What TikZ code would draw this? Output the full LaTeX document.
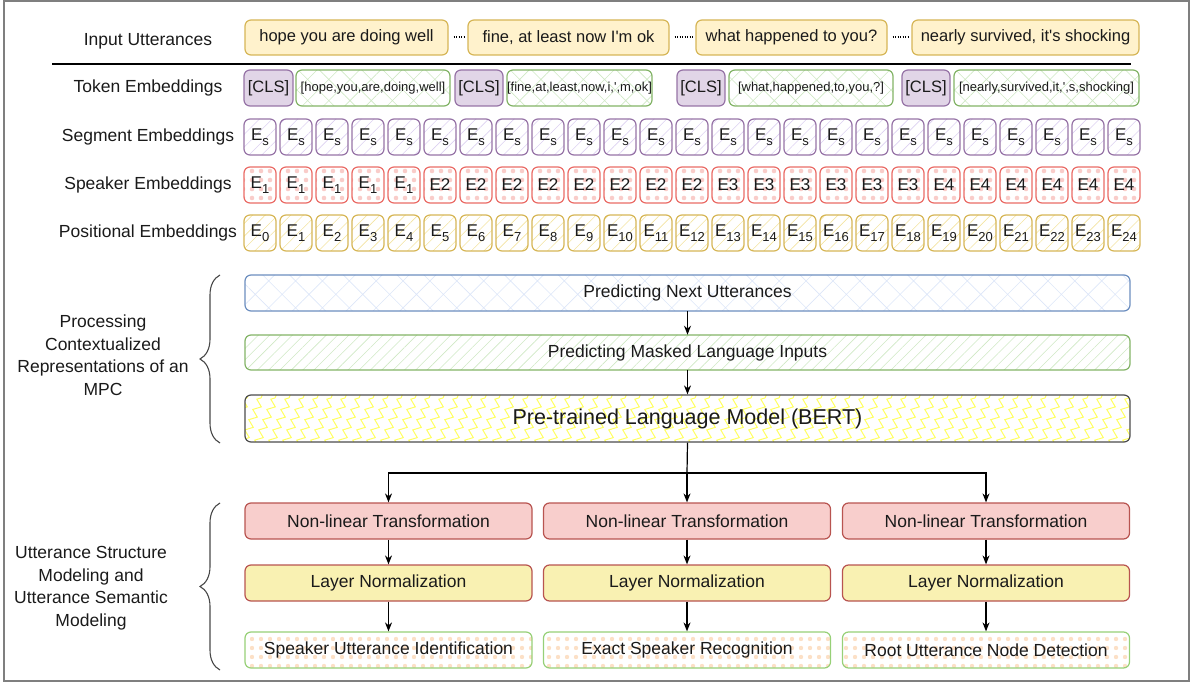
\documentclass[tikz,border=0pt]{standalone}
\usepackage{fontspec}
\setmainfont{Liberation Sans}
\usetikzlibrary{patterns.meta,decorations.pathreplacing,decorations.pathmorphing,arrows.meta}
\definecolor{txt}{HTML}{1A1A1A}
\definecolor{uttf}{HTML}{FFF2CC}
\definecolor{uttd}{HTML}{D6B656}
\definecolor{clsf}{HTML}{E1D5E7}
\definecolor{clsd}{HTML}{9673A6}
\definecolor{grnd}{HTML}{82B366}
\definecolor{grnl}{HTML}{97D077}
\definecolor{grnp}{HTML}{CFE8C4}
\definecolor{purp}{HTML}{DCD0F0}
\definecolor{redd}{HTML}{EA6B66}
\definecolor{redp}{HTML}{F9CCC9}
\definecolor{yelp}{HTML}{F3E3A0}
\definecolor{blud}{HTML}{6C8EBF}
\definecolor{blup}{HTML}{DDE6F8}
\definecolor{zzc}{HTML}{FFFF60}
\definecolor{nltf}{HTML}{F8CECC}
\definecolor{nltd}{HTML}{B85450}
\definecolor{lnf}{HTML}{F9F1B2}
\definecolor{orgp}{HTML}{FCE0C6}
\definecolor{frame}{HTML}{7F7F7F}
\newcommand\Esub[1]{E\raisebox{-4.5pt}{\fontsize{13}{12}\selectfont #1}}
\newcommand\q{\textquotesingle}
\begin{document}
\begin{tikzpicture}[x=1pt,y=-1pt,
  base/.style={rounded corners=6pt, inner sep=0pt, line width=1.2pt, align=center, text=txt},
  lbl/.style={inner sep=0pt, align=center, text=txt, font=\fontsize{17.5}{22.5}\selectfont},
  utt/.style={base, draw=uttd, fill=uttf, minimum height=35pt, font=\fontsize{16.5}{19}\selectfont},
  cls/.style={base, draw=clsd, fill=clsf, minimum width=48pt, minimum height=36pt, font=\fontsize{16.5}{19}\selectfont},
  tok/.style={base, draw=grnd, pattern={Hatch[angle=45,distance=15pt,line width=0.6pt]}, pattern color=grnp, minimum height=36pt, font=\fontsize{13}{15}\selectfont},
  cell/.style={base, minimum width=32pt, minimum height=36pt, font=\fontsize{17}{19}\selectfont},
  seg/.style={cell, draw=clsd, pattern={Lines[angle=45,distance=9pt,line width=0.6pt]}, pattern color=purp},
  spk/.style={cell, draw=redd, pattern={Dots[distance=9pt,radius=2.3pt]}, pattern color=redp},
  posn/.style={cell, draw=uttd, pattern={Lines[angle=45,distance=9pt,line width=0.6pt]}, pattern color=yelp},
  wide/.style={base, minimum width=885pt, font=\fontsize{17.5}{20}\selectfont},
  nlt/.style={base, draw=nltd, fill=nltf, minimum width=287pt, minimum height=36pt, font=\fontsize{17.5}{20}\selectfont},
  lnorm/.style={base, draw=nltd, fill=lnf, minimum width=287pt, minimum height=36pt, font=\fontsize{17.5}{20}\selectfont},
  outb/.style={base, draw=grnl, pattern={Dots[distance=9pt,radius=2.2pt]}, pattern color=orgp, minimum width=287pt, minimum height=36pt, font=\fontsize{17.5}{20}\selectfont},
  arr/.style={line width=1.2pt, -{Stealth[length=9pt,width=7pt]}},
  plain/.style={line width=1.2pt},
  dotc/.style={line width=2pt, dash pattern=on 1.2pt off 1.3pt, shorten <=5pt, shorten >=3pt},
  brc/.style={draw=txt!80, line width=1.1pt, decorate, decoration={brace, amplitude=20pt, aspect=0.5}},
  zz/.style={draw=zzc, line width=1pt, decorate, decoration={zigzag, segment length=11pt, amplitude=3.5pt}}
]
\useasboundingbox (0,0) rectangle (1192,684);
\draw[frame, line width=1.5pt] (4,1) rectangle (1189,681);

% labels
\node[lbl] (lin) at (148,41) {Input Utterances};
\node[lbl] (ltok) at (148,88) {Token Embeddings};
\node[lbl] (lseg) at (148,137) {Segment Embeddings};
\node[lbl] (lspk) at (148,185) {Speaker Embeddings};
\node[lbl] (lpos) at (148,233) {Positional Embeddings};

% utterances
\node[utt, minimum width=203pt] (u1) at (346.5,37.5) {hope you are doing well};
\node[utt, minimum width=201pt] (u2) at (568.5,37.5) {fine, at least now I\q m ok};
\node[utt, minimum width=191pt] (u3) at (791.5,37.5) {what happened to you?};
\node[utt, minimum width=227pt] (u4) at (1025.5,37.5) {nearly survived, it\q s shocking};
\draw[dotc] (u1) -- (u2);
\draw[dotc] (u2) -- (u3);
\draw[dotc] (u3) -- (u4);

\draw[line width=2.6pt] (52,64) -- (1131,64);

% token embeddings
\node[cls, minimum width=49pt] (c1) at (268.5,88) {[CLS]};
\node[tok, minimum width=154pt] (t1) at (373,88) {[hope,you,are,doing,well]};
\node[cls] (c2) at (479,88) {[CLS]};
\node[tok, minimum width=145pt] (t2) at (579.5,88) {[fine,at,least,now,i,\q,m,ok]};
\node[cls] (c3) at (701,88) {[CLS]};
\node[tok, minimum width=164pt] (t3) at (811,88) {[what,happened,to,you,?]};
\node[cls] (c4) at (926,88) {[CLS]};
\node[tok, minimum width=185pt] (t4) at (1046.5,88) {[nearly,survived,it,\q,s,shocking]};

% embedding rows
\foreach \i in {0,...,24} {
  \node[seg] (s\i) at ({260+36*\i},137) {\Esub{s}};
  \node[posn] (p\i) at ({260+36*\i},233) {\Esub{\i}};
}
\foreach \t [count=\i from 0] in {\Esub{1},\Esub{1},\Esub{1},\Esub{1},\Esub{1},E2,E2,E2,E2,E2,E2,E2,E2,E3,E3,E3,E3,E3,E3,E4,E4,E4,E4,E4,E4} {
  \node[spk] (k\i) at ({260+36*\i},185) {\t};
}

% upper block
\node[wide, draw=blud, pattern={Hatch[angle=45,distance=19pt,line width=0.6pt]}, pattern color=blup, minimum height=36pt] (pnu) at (687.5,293) {Predicting Next Utterances};
\node[wide, draw=grnd, pattern={Lines[angle=45,distance=8pt,line width=0.6pt]}, pattern color=grnp, minimum height=35pt] (pml) at (687.5,352.5) {Predicting Masked Language Inputs};
\begin{scope}
  \clip[rounded corners=6pt] (245,395) rectangle (1130,442);
  \foreach \x in {215,229,...,1140} \draw[zz] (\x,444) -- (\x+20,393);
\end{scope}
\node[wide, draw=black!70, minimum height=47pt, font=\fontsize{21.5}{24}\selectfont] (plm) at (687.5,418.5) {Pre-trained Language Model (BERT)};
\draw[arr] (pnu) -- (pml);
\draw[arr] (pml) -- (plm);

% lower block
\node[nlt] (n1) at (388.5,521) {Non-linear Transformation};
\node[nlt] (n2) at (687,521) {Non-linear Transformation};
\node[nlt] (n3) at (986,521) {Non-linear Transformation};
\node[lnorm] (l1) at (388.5,583) {Layer Normalization};
\node[lnorm] (l2) at (687,583) {Layer Normalization};
\node[lnorm] (l3) at (986,583) {Layer Normalization};
\node[outb] (o1) at (388.5,650) {Speaker Utterance Identification};
\node[outb] (o2) at (687,650) {Exact Speaker Recognition};
\node[outb] (o3) at (986,650) {Root Utterance Node Detection};

\coordinate (split) at (687,473);
\draw[plain] (plm.south) -- (split);
\draw[arr] (split) -| (n1.north);
\draw[arr] (split) -- (n2.north);
\draw[arr] (split) -| (n3.north);
\foreach \j in {1,2,3} {
  \draw[arr] (n\j) -- (l\j);
  \draw[arr] (l\j) -- (o\j);
}

% braces and side labels
\coordinate (b1t) at (220,275);
\coordinate (b1b) at (220,443);
\coordinate (b2t) at (220,503);
\coordinate (b2b) at (220,670);
\draw[brc] (b1b) -- (b1t);
\draw[brc] (b2b) -- (b2t);
\node[lbl] (side1) at (103,355) {Processing\\Contextualized\\Representations of an\\MPC};
\node[lbl] (side2) at (91,588) {Utterance Structure\\Modeling and\\Utterance Semantic\\Modeling};
\end{tikzpicture}
\end{document}
